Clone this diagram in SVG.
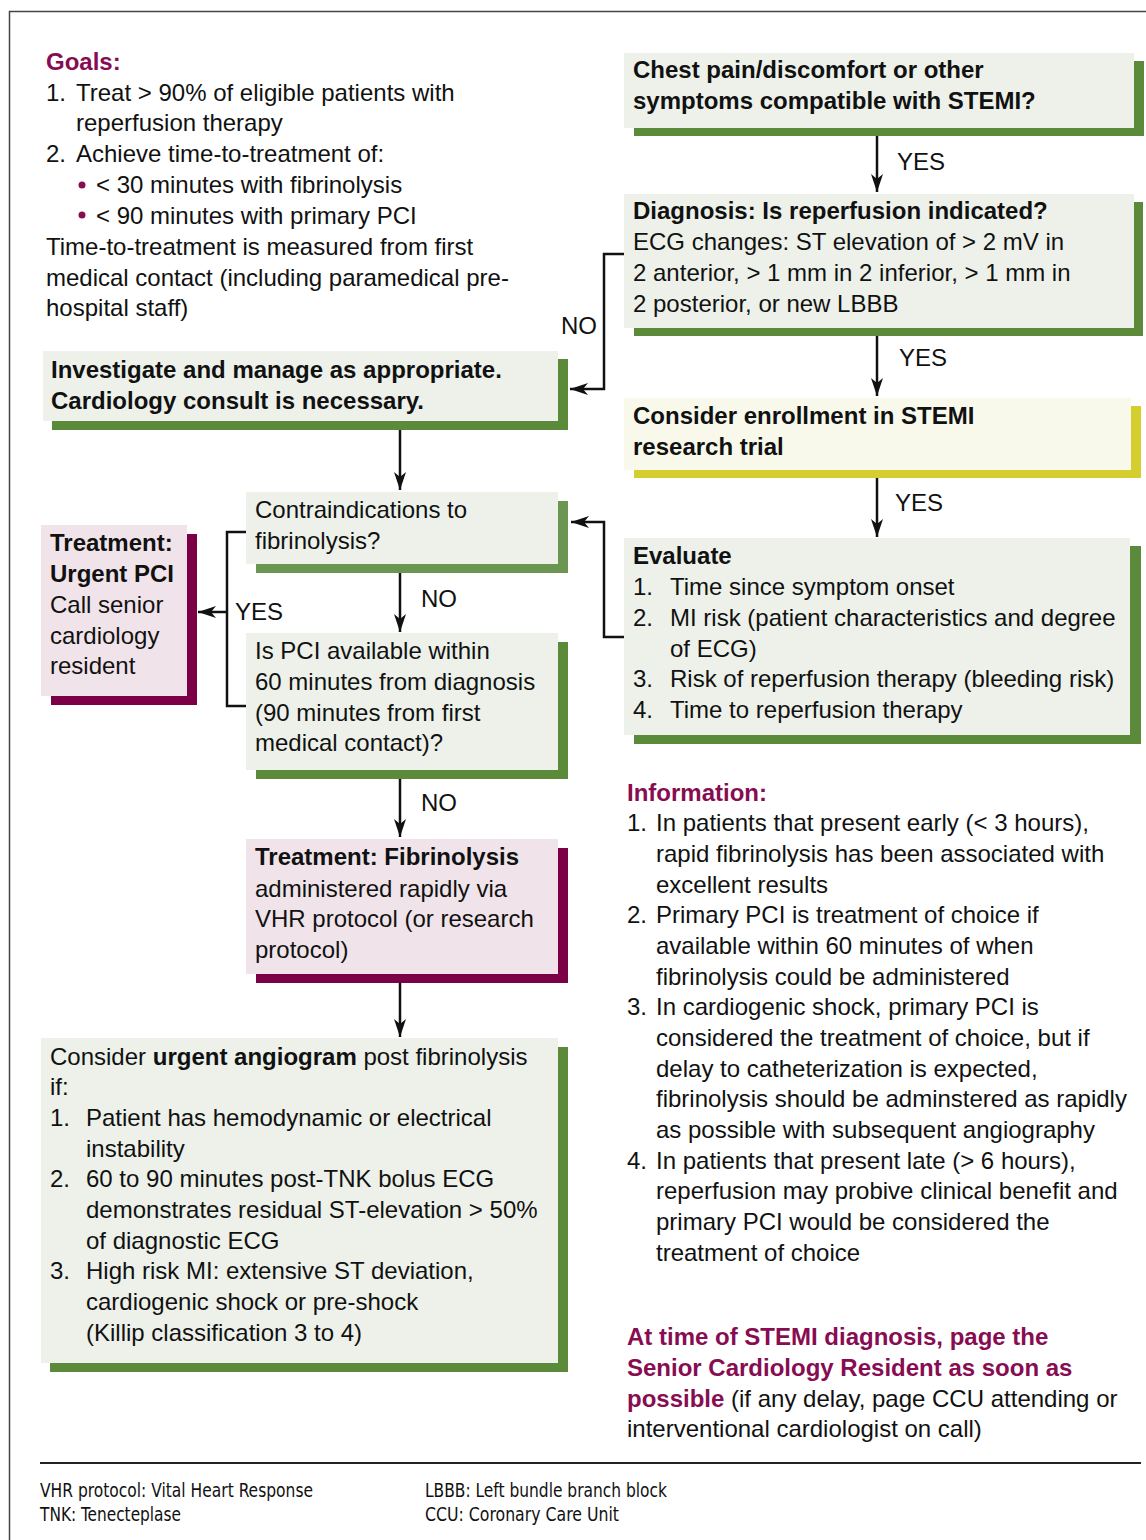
<svg xmlns="http://www.w3.org/2000/svg" width="1146" height="1540" viewBox="0 0 1146 1540">
<style>
text{font-family:"Liberation Sans",Arial,sans-serif;font-size:24px;fill:#111}
.b{font-weight:bold}
.p{fill:#870c52}
.gbg{fill:#edf1ea}
.gsh{fill:#5b8a3a}
.gsh2{fill:#6a9651}
.pbg{fill:#f0e4ea}
.psh{fill:#7b0046}
.ybg{fill:#f8f9ea}
.ysh{fill:#d4cf2f}
.c{fill:none;stroke:#111;stroke-width:2.5}
.ft{font-family:"Liberation Sans Narrow","DejaVu Sans Condensed","Liberation Sans",sans-serif;font-size:19px}
</style>
<defs>
<marker id="ah" markerUnits="userSpaceOnUse" markerWidth="20" markerHeight="14" refX="18" refY="7" orient="auto">
<path d="M0,1 L18,7 L0,13 L5,7 Z" fill="#111"/>
</marker>
</defs>
<rect width="1146" height="1540" fill="#fff"/>
<path d="M9.5,1540 V11.5 H1146" fill="none" stroke="#444" stroke-width="1.5"/>

<g id="goals">
<text x="46" y="70" class="b p">Goals:</text>
<text x="46" y="101">1.</text><text x="76" y="101">Treat &gt; 90% of eligible patients with</text>
<text x="76" y="131">reperfusion therapy</text>
<text x="46" y="162">2.</text><text x="76" y="162">Achieve time-to-treatment of:</text>
<circle cx="82" cy="185" r="3.5" fill="#870c52"/><text x="96" y="193">&lt; 30 minutes with fibrinolysis</text>
<circle cx="82" cy="215" r="3.5" fill="#870c52"/><text x="96" y="224">&lt; 90 minutes with primary PCI</text>
<text x="46" y="255">Time-to-treatment is measured from first</text>
<text x="46" y="286">medical contact (including paramedical pre-</text>
<text x="46" y="316">hospital staff)</text>
</g>

<g id="chest">
<rect x="634" y="61" width="510" height="75" class="gsh"/>
<rect x="624" y="53" width="510" height="75" class="gbg"/>
<text x="633" y="78" class="b">Chest pain/discomfort or other</text>
<text x="633" y="109" class="b">symptoms compatible with STEMI?</text>
</g>

<g id="diagnosis">
<rect x="634" y="202" width="509" height="134" class="gsh"/>
<rect x="624" y="194" width="510" height="134" class="gbg"/>
<text x="633" y="219" class="b">Diagnosis: Is reperfusion indicated?</text>
<text x="633" y="250">ECG changes: ST elevation of &gt; 2 mV in</text>
<text x="633" y="281">2 anterior, &gt; 1 mm in 2 inferior, &gt; 1 mm in</text>
<text x="633" y="312">2 posterior, or new LBBB</text>
</g>

<g id="enrollment">
<rect x="634" y="406" width="507" height="72" class="ysh"/>
<rect x="624" y="398" width="507" height="72" class="ybg"/>
<text x="633" y="424" class="b">Consider enrollment in STEMI</text>
<text x="633" y="455" class="b">research trial</text>
</g>

<g id="evaluate">
<rect x="634" y="546" width="507" height="198" class="gsh"/>
<rect x="624" y="538" width="506" height="197" class="gbg"/>
<text x="633" y="564" class="b">Evaluate</text>
<text x="633" y="595">1.</text><text x="670" y="595">Time since symptom onset</text>
<text x="633" y="626">2.</text><text x="670" y="626">MI risk (patient characteristics and degree</text>
<text x="670" y="657">of ECG)</text>
<text x="633" y="687">3.</text><text x="670" y="687">Risk of reperfusion therapy (bleeding risk)</text>
<text x="633" y="718">4.</text><text x="670" y="718">Time to reperfusion therapy</text>
</g>

<g id="investigate">
<rect x="52" y="359" width="516" height="71" class="gsh"/>
<rect x="43" y="351" width="515" height="70" class="gbg"/>
<text x="51" y="378" class="b">Investigate and manage as appropriate.</text>
<text x="51" y="409" class="b">Cardiology consult is necessary.</text>
</g>

<g id="contraindications">
<rect x="256" y="501" width="312" height="72" class="gsh2"/>
<rect x="246" y="492" width="312" height="72" class="gbg"/>
<text x="255" y="518">Contraindications to</text>
<text x="255" y="549">fibrinolysis?</text>
</g>

<g id="pci-available">
<rect x="256" y="642" width="312" height="137" class="gsh"/>
<rect x="246" y="633" width="312" height="137" class="gbg"/>
<text x="255" y="659">Is PCI available within</text>
<text x="255" y="690">60 minutes from diagnosis</text>
<text x="255" y="721">(90 minutes from first</text>
<text x="255" y="751">medical contact)?</text>
</g>

<g id="urgent-pci">
<rect x="51" y="534" width="146" height="171" class="psh"/>
<rect x="41" y="525" width="146" height="171" class="pbg"/>
<text x="50" y="551" class="b">Treatment:</text>
<text x="50" y="582" class="b">Urgent PCI</text>
<text x="50" y="613">Call senior</text>
<text x="50" y="644">cardiology</text>
<text x="50" y="674">resident</text>
</g>

<g id="fibrinolysis">
<rect x="256" y="848" width="312" height="135" class="psh"/>
<rect x="246" y="839" width="312" height="135" class="pbg"/>
<text x="255" y="865" class="b">Treatment: Fibrinolysis</text>
<text x="255" y="897">administered rapidly via</text>
<text x="255" y="927">VHR protocol (or research</text>
<text x="255" y="958">protocol)</text>
</g>

<g id="angiogram">
<rect x="50" y="1047" width="518" height="325" class="gsh"/>
<rect x="41" y="1038" width="517" height="325" class="gbg"/>
<text x="50" y="1065">Consider <tspan class="b">urgent angiogram</tspan> post fibrinolysis</text>
<text x="50" y="1095">if:</text>
<text x="50" y="1126">1.</text><text x="86" y="1126">Patient has hemodynamic or electrical</text>
<text x="86" y="1157">instability</text>
<text x="50" y="1187">2.</text><text x="86" y="1187">60 to 90 minutes post-TNK bolus ECG</text>
<text x="86" y="1218">demonstrates residual ST-elevation &gt; 50%</text>
<text x="86" y="1249">of diagnostic ECG</text>
<text x="50" y="1279">3.</text><text x="86" y="1279">High risk MI: extensive ST deviation,</text>
<text x="86" y="1310">cardiogenic shock or pre-shock</text>
<text x="86" y="1341">(Killip classification 3 to 4)</text>
</g>

<g id="information">
<text x="627" y="801" class="b p">Information:</text>
<text x="627" y="831">1.</text><text x="656" y="831">In patients that present early (&lt; 3 hours),</text>
<text x="656" y="862">rapid fibrinolysis has been associated with</text>
<text x="656" y="893">excellent results</text>
<text x="627" y="923">2.</text><text x="656" y="923">Primary PCI is treatment of choice if</text>
<text x="656" y="954">available within 60 minutes of when</text>
<text x="656" y="985">fibrinolysis could be administered</text>
<text x="627" y="1015">3.</text><text x="656" y="1015">In cardiogenic shock, primary PCI is</text>
<text x="656" y="1046">considered the treatment of choice, but if</text>
<text x="656" y="1077">delay to catheterization is expected,</text>
<text x="656" y="1107">fibrinolysis should be adminstered as rapidly</text>
<text x="656" y="1138">as possible with subsequent angiography</text>
<text x="627" y="1169">4.</text><text x="656" y="1169">In patients that present late (&gt; 6 hours),</text>
<text x="656" y="1199">reperfusion may probive clinical benefit and</text>
<text x="656" y="1230">primary PCI would be considered the</text>
<text x="656" y="1261">treatment of choice</text>
</g>

<g id="page-note">
<text x="627" y="1345" class="b p">At time of STEMI diagnosis, page the</text>
<text x="627" y="1376" class="b p">Senior Cardiology Resident as soon as</text>
<text x="627" y="1407"><tspan class="b p">possible</tspan> (if any delay, page CCU attending or</text>
<text x="627" y="1437">interventional cardiologist on call)</text>
</g>

<g id="connectors">
<line x1="877" y1="136" x2="877" y2="192" class="c" marker-end="url(#ah)"/>
<text x="897" y="170">YES</text>
<line x1="877" y1="336" x2="877" y2="396" class="c" marker-end="url(#ah)"/>
<text x="899" y="366">YES</text>
<line x1="877" y1="478" x2="877" y2="537" class="c" marker-end="url(#ah)"/>
<text x="895" y="511">YES</text>
<path d="M624,254 H604 V389 H570" class="c" marker-end="url(#ah)"/>
<text x="561" y="334">NO</text>
<path d="M624,637 H604 V522 H571" class="c" marker-end="url(#ah)"/>
<line x1="400" y1="430" x2="400" y2="490" class="c" marker-end="url(#ah)"/>
<line x1="400" y1="573" x2="400" y2="632" class="c" marker-end="url(#ah)"/>
<text x="421" y="607">NO</text>
<path d="M246,532 H227 V706 H246" class="c"/>
<line x1="227" y1="612" x2="198" y2="612" class="c" marker-end="url(#ah)"/>
<text x="235" y="620">YES</text>
<line x1="400" y1="779" x2="400" y2="837" class="c" marker-end="url(#ah)"/>
<text x="421" y="811">NO</text>
<line x1="400" y1="983" x2="400" y2="1037" class="c" marker-end="url(#ah)"/>
</g>

<g id="footer">
<line x1="40" y1="1463" x2="1141" y2="1463" stroke="#222" stroke-width="2"/>
<text x="40" y="1497" class="ft" textLength="273" lengthAdjust="spacingAndGlyphs">VHR protocol: Vital Heart Response</text>
<text x="40" y="1521" class="ft" textLength="141" lengthAdjust="spacingAndGlyphs">TNK: Tenecteplase</text>
<text x="425" y="1497" class="ft" textLength="242" lengthAdjust="spacingAndGlyphs">LBBB: Left bundle branch block</text>
<text x="425" y="1521" class="ft" textLength="194" lengthAdjust="spacingAndGlyphs">CCU: Coronary Care Unit</text>
</g>
</svg>
